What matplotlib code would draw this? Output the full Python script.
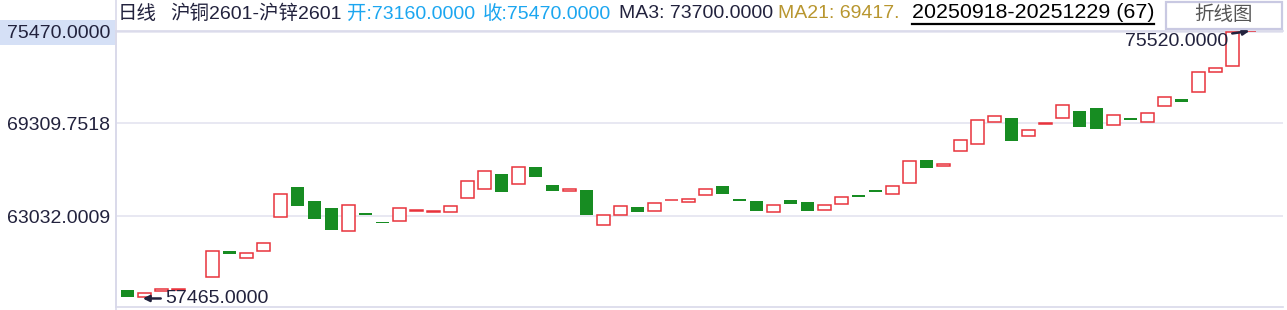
import matplotlib
matplotlib.use('Agg')
import matplotlib.pyplot as plt
from matplotlib.patches import Rectangle
from matplotlib.lines import Line2D

# ---- data (daily K-line, spread 沪铜2601-沪锌2601) ----
opens = [58040, 57590, 57950, 58060, 58190, 58935, 60670, 60220, 60650, 62945,
         65010, 64045, 63570, 62040, 63235, 62630, 62715, 63400, 63335, 63280,
         64225, 64835, 65865, 65170, 66340, 65125, 64750, 64785, 62405, 63080,
         63640, 63390, 64080, 64000, 64470, 65055, 64180, 64045, 63320, 64130,
         63975, 63455, 63860, 64450, 64785, 64535, 65280, 66810, 66430, 67440,
         67870, 69395, 69645, 68410, 69275, 69625, 70120, 70320, 69155, 69645,
         69395, 70435, 70950, 71380, 72750, 73160, 75500]
closes = [57590, 57815, 58105, 58120, 58160, 60670, 60488, 60515, 61210, 64515,
          63730, 62830, 62090, 63775, 63120, 62580, 63550, 63420, 63350, 63690,
          65375, 66050, 64650, 66320, 65665, 64720, 64850, 63100, 63080, 63690,
          63300, 63890, 64095, 64180, 64855, 64515, 64065, 63370, 63775, 63840,
          63370, 63775, 64315, 64335, 64670, 65055, 66745, 66290, 66560, 68160,
          69490, 69780, 68095, 68815, 69290, 70505, 69040, 68905, 69850, 69530,
          69985, 71065, 70745, 72770, 73020, 75470, 75520]
low_val, high_val = 57465.0, 75520.0
yticks = [63032.0009, 69309.7518, 75470.0000]

RED = '#e8333c'
GREEN = '#178c22'
NAVY = '#22223d'
LINE = '#e4e4f0'

W, H = 1287, 310
fig = plt.figure(figsize=(W / 100, H / 100), dpi=100)
fig.patch.set_facecolor('white')
ax = fig.add_axes([116 / W, 3 / H, (1283 - 116) / W, (307 - 31) / H])

# ---- candles (bodies only) ----
xs = list(range(len(opens)))
for x, o, c in zip(xs, opens, closes):
    if c >= o:
        ax.bar(x, max(c - o, 1), bottom=o, width=0.74, facecolor='white',
               edgecolor=RED, linewidth=1.1, zorder=3)
    else:
        ax.bar(x, o - c, bottom=c, width=0.76, color=GREEN, linewidth=0, zorder=3)

ax.set_xlim((116 - 127.5) / 17, (1283 - 127.5) / 17)
ax.set_ylim(56890, 75520)

# grid + axes styling
ax.set_yticks(yticks)
ax.set_yticklabels(['%.4f' % v for v in yticks], fontsize=14, color=NAVY,
                   family=['Liberation Sans', 'DejaVu Sans'])
ax.tick_params(axis='y', length=0, pad=4)
ax.set_xticks([])
ax.grid(axis='y', color=LINE, linewidth=1.2, zorder=0)
ax.spines['right'].set_visible(False)
for s in ['top', 'bottom', 'left']:
    ax.spines[s].set_color('#d9d9ea')
    ax.spines[s].set_linewidth(1.2)

# highlight box behind top price label
fig.patches.append(Rectangle((0, 1 - 45 / H), 115 / W, 25 / H, transform=fig.transFigure,
                             facecolor='#d5e0f6', edgecolor='none', zorder=-1))
fig.add_artist(Line2D([116 / W, 116 / W], [0, 1], color='#d9d9ea', lw=1.2))

# ---- min / max markers ----
ax.annotate('%.4f' % low_val, xy=(0.9, low_val), xytext=(2.2, low_val),
            ha='left', va='center', fontsize=14, color=NAVY,
            family=['Liberation Sans', 'DejaVu Sans'],
            arrowprops=dict(arrowstyle='-|>', color=NAVY, lw=1.8, shrinkA=1, shrinkB=0,
                            mutation_scale=9), annotation_clip=False, zorder=6)
ax.annotate('%.4f' % high_val, xy=(66.0, high_val), xytext=(64.74, 74823),
            ha='right', va='center', fontsize=14, color=NAVY,
            family=['Liberation Sans', 'DejaVu Sans'],
            arrowprops=dict(arrowstyle='-|>', color=NAVY, lw=1.8, shrinkA=1, shrinkB=0,
                            mutation_scale=9), annotation_clip=False, zorder=6)

# ---- header ----
fam = ['Liberation Sans', 'Noto Sans CJK SC']
yh = 1 - 14 / H
pieces = [
    (118, '日线', NAVY),
    (170, '沪铜2601-沪锌2601', NAVY),
    (347, '开:73160.0000', '#1ba6f0'),
    (483, '收:75470.0000', '#1ba6f0'),
    (619, 'MA3: 73700.0000', NAVY),
    (778, 'MA21: 69417.', '#b8962f'),
]
for px, txt, col in pieces:
    fig.text(px / W, yh, txt, ha='left', va='center', fontsize=14, color=col, family=fam)

fig.text(912 / W, 1 - 13 / H, '20250918-20251229 (67)', ha='left', va='center',
         fontsize=15.4, color='black', family=fam)
fig.add_artist(Line2D([912 / W, 1154 / W], [1 - 23.5 / H, 1 - 23.5 / H], color='black', lw=1.6))

# 折线图 button
fig.patches.append(Rectangle((1166 / W, 1 - 29 / H), 116 / W, 27 / H, transform=fig.transFigure,
                             facecolor='white', edgecolor='#c9c9e2', linewidth=1.6, zorder=4))
fig.text(1224 / W, 1 - 15 / H, '折线图', ha='center', va='center', fontsize=14,
         color='#555555', family=fam, zorder=5)

fig.savefig('out.png', dpi=100)
